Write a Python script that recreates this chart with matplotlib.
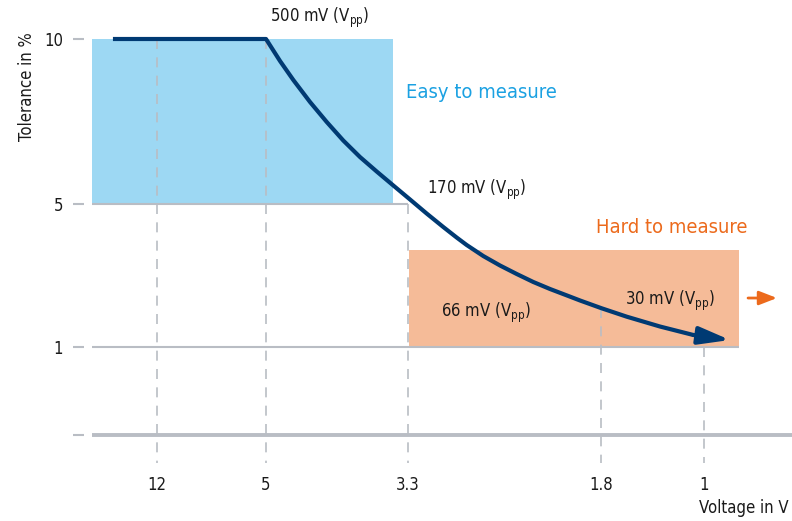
import numpy as np
import matplotlib
matplotlib.use("Agg")
import matplotlib.pyplot as plt
from matplotlib.patches import Rectangle

plt.rcParams['font.family'] = ['Liberation Sans Narrow', 'DejaVu Sans']
plt.rcParams['font.stretch'] = 'condensed'

# ---------------- data ----------------
voltage_ticks = [12, 5, 3.3, 1.8, 1]
voltage_labels = ['12', '5', '3.3', '1.8', '1']
tolerance_ticks = [0, 1, 5, 10]
tolerance_labels = ['', '1', '5', '10']

curve_voltage = [14.83, 5.0, 4.832, 4.673, 4.473, 4.273, 4.075, 3.875, 3.675, 3.476,
                 3.284, 3.155, 3.026, 2.922, 2.844, 2.715, 2.585, 2.455, 2.326, 2.196,
                 2.054, 1.963, 1.795, 1.600, 1.342, 1.083, 0.798]
curve_tolerance = [10.0, 10.0, 9.333, 8.758, 8.091, 7.485, 6.924, 6.424, 5.985, 5.561,
                   5.136, 4.734, 4.357, 4.063, 3.853, 3.545, 3.280, 3.042, 2.818, 2.622,
                   2.427, 2.301, 2.083, 1.848, 1.573, 1.336, 1.196]

easy_zone_v = (16.17, 3.48)
easy_zone_tol = (5, 10)
hard_zone_v = (3.29, 0.728)
hard_zone_tol = (1, 3.71)

dash_tops = [10, 10, 5, 2.08, 1]   # where each dashed guide starts

ripple_labels = ['500 mV (V$_\\mathregular{pp}$)', '170 mV (V$_\\mathregular{pp}$)',
                 '66 mV (V$_\\mathregular{pp}$)', '30 mV (V$_\\mathregular{pp}$)']
ripple_v = [4.95, 3.15, 3.04, 1.61]
ripple_tol = [10.64, 5.42, 1.95, 2.29]

# ---------------- schematic scales ----------------
XV = np.array([25, 12, 5, 3.3, 1.8, 1, -1], dtype=float)
XP = np.array([-45.4, 157, 266, 408, 601, 704, 961.5])
YV = np.array([-3, 0, 1, 5, 10, 15], dtype=float)
YP = np.array([-264, 0, 88, 231, 396, 561], dtype=float)


def fx(v):
    # increasing in v (negative screen position)
    return -np.interp(-np.asarray(v, dtype=float), -XV, XP)


def ix(t):
    return -np.interp(-np.asarray(t, dtype=float), XP, -XV)


def fy(v):
    return np.interp(np.asarray(v, dtype=float), YV, YP)


def iy(p):
    return np.interp(np.asarray(p, dtype=float), YP, YV)


def v_at(px):
    return float(-np.interp(px, XP, -XV))


GRAY = '#b9bdc4'
NAVY = '#003a73'
BLUE_FILL = '#9dd8f3'
ORANGE_FILL = '#f5bb98'
BLUE_TXT = '#1ba1e2'
ORANGE_TXT = '#ec6a1c'

W, H = 792, 521
fig = plt.figure(figsize=(W / 100, H / 100), dpi=100)
ax_left, ax_right, ax_top, ax_bottom = 84, 792, 0, 463
ax = fig.add_axes([ax_left / W, 1 - ax_bottom / H, (ax_right - ax_left) / W, (ax_bottom - ax_top) / H])
ax.set_xscale('function', functions=(fx, ix))
ax.set_yscale('function', functions=(fy, iy))
ax.set_xlim(v_at(ax_left), v_at(ax_right))
ax.set_ylim(float(iy(435 - ax_bottom)), float(iy(435 - ax_top)))

for s in ax.spines.values():
    s.set_visible(False)

# zones
ax.add_patch(Rectangle((easy_zone_v[0], easy_zone_tol[0]), easy_zone_v[1] - easy_zone_v[0],
                       easy_zone_tol[1] - easy_zone_tol[0], facecolor=BLUE_FILL, edgecolor='none', zorder=1))
ax.add_patch(Rectangle((hard_zone_v[0], hard_zone_tol[0]), hard_zone_v[1] - hard_zone_v[0],
                       hard_zone_tol[1] - hard_zone_tol[0], facecolor=ORANGE_FILL, edgecolor='none', zorder=1))

# horizontal grid lines
ax.hlines(5, easy_zone_v[0], 3.3, color=GRAY, lw=1.5, zorder=2)
ax.hlines(1, easy_zone_v[0], hard_zone_v[1], color=GRAY, lw=1.5, zorder=2)
ax.hlines(0, easy_zone_v[0], v_at(ax_right), color=GRAY, lw=2.8, zorder=2)

# dashed verticals
ybot = float(iy(435 - ax_bottom))
for v, top in zip(voltage_ticks, dash_tops):
    ax.plot([v, v], [top, ybot], color=GRAY, lw=1.2, ls=(0, (6, 5)), zorder=2)

# curve
ax.plot(curve_voltage[:-1], curve_tolerance[:-1], color=NAVY, lw=3.0, zorder=4,
        solid_capstyle='butt', solid_joinstyle='round')
ax.annotate('', xy=(curve_voltage[-1], curve_tolerance[-1]),
            xytext=(curve_voltage[-2], curve_tolerance[-2]),
            arrowprops=dict(arrowstyle='-|>,head_length=1.35,head_width=0.38', color=NAVY,
                            lw=3.0, shrinkA=0, shrinkB=0, mutation_scale=14), zorder=5)

# labels
for txt, v, t in zip(ripple_labels, ripple_v, ripple_tol):
    ax.text(v, t, txt, fontsize=12, color='#1a1a1a', ha='left', va='center', zorder=6)
ax.text(3.32, 8.39, 'Easy to measure', fontsize=14.5, color=BLUE_TXT, ha='left', va='center')
ax.text(1.84, 4.33, 'Hard to measure', fontsize=14.5, color=ORANGE_TXT, ha='left', va='center')

ax.annotate('', xy=(0.433, 2.37), xytext=(0.658, 2.37),
            arrowprops=dict(arrowstyle='-|>,head_length=0.9,head_width=0.35', color=ORANGE_TXT,
                            lw=2.0, shrinkA=0, shrinkB=0, mutation_scale=12))

# ticks
ax.set_xticks(voltage_ticks)
ax.set_xticklabels(voltage_labels)
ax.set_yticks(tolerance_ticks)
ax.set_yticklabels(tolerance_labels)
ax.xaxis.set_minor_locator(matplotlib.ticker.NullLocator())
ax.yaxis.set_minor_locator(matplotlib.ticker.NullLocator())
ax.tick_params(axis='x', length=0, pad=9, labelsize=12, labelcolor='#1a1a1a')
ax.tick_params(axis='y', length=8, width=1.5, color=GRAY, pad=7, labelsize=12, labelcolor='#1a1a1a')

ax.set_xlabel('Voltage in V', fontsize=12, color='#1a1a1a', ha='right', va='center')
ax.xaxis.set_label_coords(789 / W, 1 - 508 / H, transform=fig.transFigure)
ax.set_ylabel('Tolerance in %', fontsize=12, color='#1a1a1a', va='center', ha='center')
ax.yaxis.set_label_coords(27 / W, 1 - 87 / H, transform=fig.transFigure)

fig.savefig('out.png', dpi=100)
